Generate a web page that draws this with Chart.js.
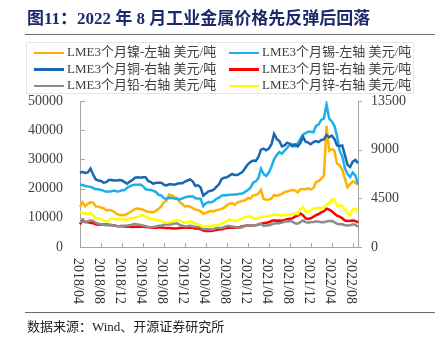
<!DOCTYPE html>
<html>
<head>
<meta charset="utf-8">
<script src="https://cdn.jsdelivr.net/npm/chart.js@4.4.0/dist/chart.umd.min.js"></script>
<style>
  body { margin: 0; width: 435px; height: 344px; background: #fff; position: relative; overflow: hidden;
         font-family: "Liberation Serif", "Noto Sans CJK SC", serif; }
  #title { position: absolute; left: 27px; top: 9px; font-size: 17px; line-height: 20px; font-weight: bold;
           color: #1c2a6b; white-space: nowrap; }
  .rule { position: absolute; left: 25px; right: 0; height: 1px; background: #6b6b6b; }
  #legend { position: absolute; left: 26px; top: 42px; width: 386px; height: 50px; border: 1px solid #e6e6e6; }
  .item { position: absolute; font-size: 13px; line-height: 16px; color: #404040; white-space: nowrap; }
  .item i { display: inline-block; width: 30px; height: 2.5px; vertical-align: middle; margin-right: 3px; }
  #source { position: absolute; left: 27px; top: 318px; font-size: 13px; line-height: 18px; color: #222; white-space: nowrap; }
  canvas { position: absolute; left: 0; top: 0; }
</style>
</head>
<body>
<canvas id="chart" width="435" height="344"></canvas>
<div id="title">图11：2022 年 8 月工业金属价格先反弹后回落</div>
<div class="rule" style="top:34px"></div>
<div id="legend"></div>
<div class="rule" style="top:312px"></div>
<div id="source">数据来源：Wind、开源证券研究所</div>
<script>
// --- Data: LME 3-month prices, two readings per month, 2018/04 .. 2022/09 ---
const tickLabels = ['2018/04','2018/08','2018/12','2019/04','2019/08','2019/12','2020/04',
                    '2020/08','2020/12','2021/04','2021/08','2021/12','2022/04','2022/08'];
const leftTicks = [0, 10000, 20000, 30000, 40000, 50000];
const rightTicks = [0, 4500, 9000, 13500];

const seriesNames = ['LME3个月镍-左轴 美元/吨', 'LME3个月锡-左轴 美元/吨', 'LME3个月铜-右轴 美元/吨',
                     'LME3个月铝-右轴 美元/吨', 'LME3个月铅-右轴 美元/吨', 'LME3个月锌-右轴 美元/吨'];
const seriesColors = ['#ffb300', '#1ab0ea', '#1768b0', '#ff0000', '#8c8c8c', '#ffff00'];

const nickel = [
  13700,15300, 14000,14800, 15300,15200, 13900,13800, 13500,13300, 12600,12700, 12500,12000, 11300,11000, 11000,10900,
  11300,11900, 12400,13000, 13200,13000, 12800,12300, 12100,12000, 11900,12400, 13100,14000, 15300,15900, 18000,17700,
  17000,16800, 15400,14700, 13900,14000,
  13800,13300, 12800,12700, 12200,11400, 11700,12100, 12300,12200, 12600,12800, 13100,13500, 14300,14800, 15000,14400,
  15300,15500, 15800,16000, 16800,16600,
  17700,17800, 18300,19600, 16500,16200, 16300,16600, 17800,17500, 17800,18200, 18800,19000, 19300,19500, 19400,18700,
  19700,19900, 19800,20100, 19700,20200,
  22300,22600, 23300,24500, 41500,33000, 33500,33000, 28500,28000, 26500,23500, 20500,21500, 22500,22000, 21300
];
const tin = [
  21300,21200, 20900,20700, 20600,20200, 19800,19800, 19500,19300, 18900,19000, 19100,19300, 19000,19100, 19400,19500,
  20300,20800, 21200,21300, 21300,21400, 20800,19800, 19600,19500, 19200,18800, 17800,17700, 16700,16500, 16900,16800,
  16600,16400, 16300,16600, 17000,17200,
  17300,17400, 16700,16600, 16500,14000, 15000,15400, 15300,15700, 16500,16900, 17600,17800, 17700,17900, 17900,18000,
  18100,18200, 18300,18900, 19500,20300,
  22000,22500, 23500,26800, 25000,24300, 25500,27500, 30000,31500, 32500,32000, 33000,34000, 35000,35200, 34500,35500,
  37000,38500, 39000,39500, 39500,39300,
  41500,42000, 43500,44000, 48800,44000, 43000,41500, 38000,33000, 31000,27000, 25000,24000, 25500,24500, 21500
];
const copper = [
  6850,6950, 6850,6900, 7250,6700, 6250,6150, 6100,5950, 6000,6200, 6200,6150, 6150,6200, 6150,6000,
  5850,6050, 6200,6400, 6450,6400, 6450,6450, 6100,6000, 5850,5950, 5950,5950, 5750,5700, 5800,5800,
  5750,5850, 5900,5900, 6050,6150,
  6250,6050, 5650,5700, 5500,4750, 4950,5150, 5200,5300, 5550,5800, 6300,6400, 6450,6600, 6750,6650,
  6650,6800, 6950,7300, 7650,7850,
  8000,7950, 8300,9000, 9100,8950, 9100,9500, 10450,10000, 9800,9300, 9400,9650, 9550,9300, 9500,9300,
  9600,10200, 9750,9650, 9500,9700,
  9800,9700, 9900,9950, 10350,10150, 10300,10000, 9400,9350, 9400,8500, 7600,7400, 7900,8050, 7750
];
const aluminum = [
  2100,2450, 2300,2280, 2250,2200, 2100,2050, 2050,2080, 2070,2050, 2030,1980, 1950,1930, 1950,1900,
  1870,1880, 1850,1870, 1880,1900, 1870,1850, 1820,1800, 1780,1780, 1800,1810, 1770,1760, 1760,1740,
  1720,1730, 1760,1770, 1780,1790,
  1790,1780, 1710,1700, 1650,1530, 1480,1470, 1470,1520, 1580,1610, 1650,1700, 1760,1770, 1770,1790,
  1810,1850, 1930,1970, 2020,1990,
  2000,2000, 2070,2150, 2200,2250, 2280,2400, 2470,2420, 2450,2430, 2500,2580, 2620,2650, 2800,2900,
  3100,2950, 2650,2600, 2650,2800,
  2950,3050, 3200,3300, 3550,3450, 3300,3100, 2900,2800, 2650,2450, 2400,2420, 2450,2400, 2250
];
const lead = [
  2300,2350, 2320,2380, 2450,2420, 2250,2150, 2080,2050, 2000,2000, 2000,1980, 1950,1930, 1950,1970,
  1980,2000, 2080,2120, 2080,2050, 1980,1930, 1850,1820, 1860,1900, 1960,1970, 2050,2070, 2080,2100,
  2170,2200, 2050,1980, 1900,1930,
  1970,1900, 1870,1860, 1780,1650, 1650,1650, 1620,1650, 1750,1750, 1780,1830, 1950,1950, 1900,1850,
  1800,1780, 1850,1950, 2000,2000,
  2000,2000, 2100,2150, 1950,1980, 2000,2080, 2180,2200, 2200,2250, 2350,2350, 2400,2350, 2200,2150,
  2300,2450, 2300,2250, 2300,2320,
  2350,2350, 2300,2300, 2350,2400, 2400,2300, 2150,2100, 2100,2000, 1980,2000, 2100,2050, 1880
];
const zinc = [
  3250,3150, 3050,3100, 3150,2950, 2650,2600, 2600,2450, 2350,2450, 2650,2600, 2550,2600, 2550,2550,
  2500,2650, 2650,2700, 2800,2900, 2950,2800, 2700,2600, 2600,2550, 2450,2400, 2300,2250, 2300,2350,
  2400,2500, 2450,2350, 2250,2300,
  2400,2300, 2150,2100, 2000,1850, 1900,1950, 1950,1980, 2050,2050, 2150,2300, 2400,2550, 2450,2400,
  2450,2550, 2650,2750, 2850,2800,
  2700,2600, 2700,2800, 2800,2800, 2850,2950, 3000,2950, 2950,2900, 2950,2950, 3000,3000, 3100,3050,
  3500,3700, 3300,3250, 3350,3550,
  3600,3600, 3600,3650, 3900,4100, 4350,4400, 3800,3850, 3800,3500, 3100,2950, 3500,3550, 3200
];

// category labels: "YYYY/MM" for each half-month reading
const dates = [];
for (let i = 0; i < nickel.length; i++) {
  const m = 3 + Math.floor(i / 2);              // months since 2018/01, zero-based
  const y = 2018 + Math.floor(m / 12);
  dates.push(y + '/' + String(m % 12 + 1).padStart(2, '0'));
}

// --- Legend (HTML, two columns) ---
const legend = document.getElementById('legend');
seriesNames.forEach((name, k) => {
  const div = document.createElement('div');
  div.className = 'item';
  div.style.left = (k % 2 === 0 ? 7 : 202) + 'px';
  div.style.top = (1 + Math.floor(k / 2) * 16.5) + 'px';
  div.innerHTML = `<i style="background:${seriesColors[k]}"></i>${name}`;
  legend.appendChild(div);
});

// --- Axis tick marks and rotated date labels ---
const axisDecor = {
  id: 'axisDecor',
  afterDraw(chart) {
    const { ctx, chartArea: a, scales: { x, yL, yR } } = chart;
    ctx.save();
    ctx.strokeStyle = '#a6a6a6';
    ctx.lineWidth = 1;
    ctx.beginPath();
    leftTicks.forEach(v => {
      const py = Math.round(yL.getPixelForValue(v)) + 0.5;
      ctx.moveTo(a.left, py); ctx.lineTo(a.left + 5, py);
    });
    rightTicks.forEach(v => {
      const py = Math.round(yR.getPixelForValue(v)) + 0.5;
      ctx.moveTo(a.right, py); ctx.lineTo(a.right + 4, py);
    });
    const shown = [];
    dates.forEach((d, i) => {
      if (i % 2 === 0 && tickLabels.includes(d)) shown.push([d, x.getPixelForValue(i)]);
    });
    shown.forEach(([d, px]) => {
      const tx = Math.round(px) + 0.5;
      ctx.moveTo(tx, a.bottom); ctx.lineTo(tx, a.bottom - 4);
    });
    ctx.stroke();

    ctx.fillStyle = '#333';
    ctx.font = '14px "Liberation Serif"';
    ctx.textAlign = 'left';
    ctx.textBaseline = 'middle';
    shown.forEach(([d, px]) => {
      ctx.save();
      ctx.translate(px - 2, a.bottom + 11);
      ctx.rotate(Math.PI / 2);
      ctx.fillText(d, 0, 0);
      ctx.restore();
    });
    ctx.restore();
  }
};

Chart.defaults.font.family = '"Liberation Serif", "Noto Sans CJK SC", serif';

const values = [nickel, tin, copper, aluminum, lead, zinc];
const axes = ['yL', 'yL', 'yR', 'yR', 'yR', 'yR'];

new Chart(document.getElementById('chart'), {
  type: 'line',
  data: {
    labels: dates,
    datasets: values.map((data, k) => ({
      label: seriesNames[k],
      data: data,
      yAxisID: axes[k],
      borderColor: seriesColors[k],
      backgroundColor: seriesColors[k],
      borderWidth: 2.5,
      pointRadius: 0,
      tension: 0,
      order: 6 - k
    }))
  },
  options: {
    responsive: false,
    animation: false,
    layout: { padding: { top: 101, left: 0, right: 0, bottom: 0 } },
    plugins: { legend: { display: false }, tooltip: { enabled: false } },
    scales: {
      x: {
        type: 'category',
        offset: false,
        grid: { display: false, drawTicks: false },
        border: { color: '#a6a6a6' },
        ticks: { display: false },
        afterFit(s) { s.height = 97; }
      },
      yL: {
        position: 'left',
        min: 0, max: 50000,
        afterBuildTicks(s) { s.ticks = leftTicks.map(v => ({ value: v })); },
        ticks: { color: '#404040', font: { size: 14 }, padding: 17, callback: v => String(v) },
        grid: { display: false, drawTicks: false },
        border: { color: '#a6a6a6' },
        afterFit(s) { s.width = 80; }
      },
      yR: {
        position: 'right',
        min: 0, max: 13500,
        afterBuildTicks(s) { s.ticks = rightTicks.map(v => ({ value: v })); },
        ticks: { color: '#404040', font: { size: 14 }, padding: 13, callback: v => String(v) },
        grid: { display: false, drawTicks: false },
        border: { color: '#a6a6a6' },
        afterFit(s) { s.width = 77; }
      }
    }
  },
  plugins: [axisDecor]
});
</script>
</body>
</html>
